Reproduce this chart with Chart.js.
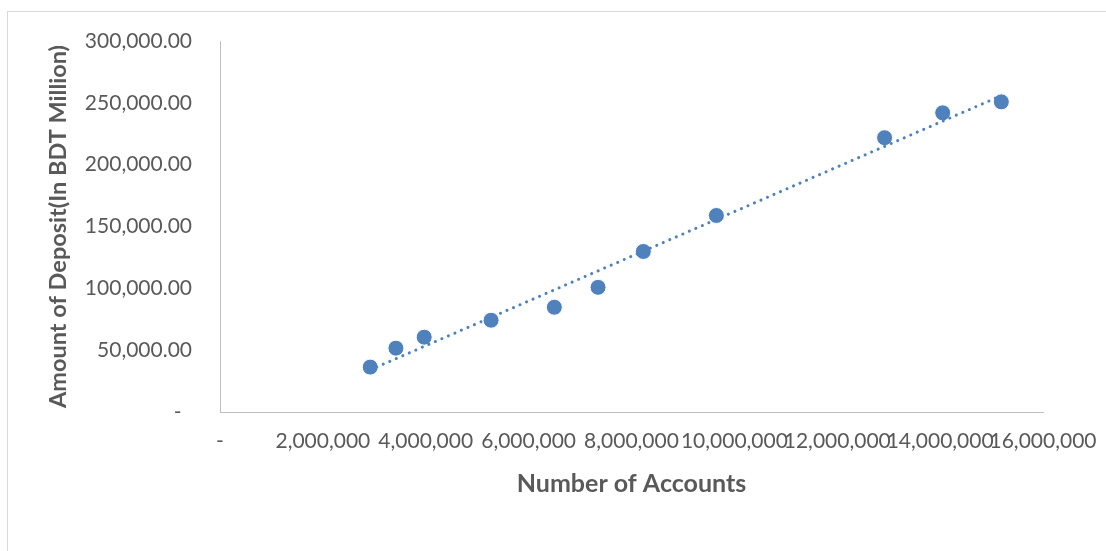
<!DOCTYPE html>
<html>
<head>
<meta charset="utf-8">
<script src="https://cdn.jsdelivr.net/npm/chart.js@4/dist/chart.umd.min.js"></script>
<style>
  html, body { margin: 0; padding: 0; background: #fff; }
  #wrap { width: 1106px; height: 551px; }
</style>
</head>
<body>
<div id="wrap"><canvas id="depositChart" width="1106" height="551"></canvas></div>
<script>
// accounts vs deposits, one point per year
const accounts = [2920000, 3420000, 3970000, 5270000, 6500000, 7350000, 8230000, 9650000, 12920000, 14050000, 15190000];
const deposits = [36300, 51600, 60500, 74200, 84700, 100800, 129800, 158900, 221800, 241900, 250800];

const xTicks = [0, 2000000, 4000000, 6000000, 8000000, 10000000, 12000000, 14000000, 16000000];
const yTicks = [0, 50000, 100000, 150000, 200000, 250000, 300000];

const blue = 'rgb(79, 129, 189)';
const labelColor = '#595959';
const fontFamily = 'Lato, "Open Sans", sans-serif';

// least squares line for the trend
function linearFit(xs, ys) {
  const n = xs.length;
  let sx = 0, sy = 0, sxy = 0, sxx = 0;
  for (let i = 0; i < n; i++) {
    sx += xs[i]; sy += ys[i];
    sxy += xs[i] * ys[i]; sxx += xs[i] * xs[i];
  }
  const slope = (n * sxy - sx * sy) / (n * sxx - sx * sx);
  const intercept = (sy - slope * sx) / n;
  return x => slope * x + intercept;
}

const fit = linearFit(accounts, deposits);
const xMin = Math.min(...accounts);
const xMax = Math.max(...accounts);
const trend = [{x: xMin, y: fit(xMin)}, {x: xMax, y: fit(xMax)}];

const points = accounts.map((a, i) => ({x: a, y: deposits[i]}));

function fmt(v, decimals) {
  if (v === 0) return '-';
  return v.toLocaleString('en-US', {minimumFractionDigits: decimals, maximumFractionDigits: decimals});
}

// thin grey frame round the whole chart
const frame = {
  id: 'frame',
  beforeDraw(chart) {
    const c = chart.ctx;
    c.save();
    c.strokeStyle = '#d9d9d9';
    c.lineWidth = 1;
    c.strokeRect(7.5, 11.5, 1200, 600);
    c.restore();
  }
};

const ctx = document.getElementById('depositChart').getContext('2d');

const myChart = new Chart(ctx, {
  type: 'scatter',
  data: {
    datasets: [
      {
        label: 'Deposits',
        data: points,
        backgroundColor: blue,
        borderColor: '#ffffff',
        borderWidth: 1,
        pointRadius: 8,
        order: 1
      },
      {
        label: 'Trend',
        type: 'line',
        data: trend,
        borderColor: blue,
        borderWidth: 3,
        borderDash: [0.1, 7],
        borderCapStyle: 'round',
        pointRadius: 0,
        fill: false,
        order: 0
      }
    ]
  },
  options: {
    responsive: false,
    animation: false,
    layout: { padding: { top: 41, right: 63, bottom: 39, left: 0 } },
    plugins: {
      legend: { display: false },
      tooltip: { enabled: false }
    },
    scales: {
      x: {
        type: 'linear',
        min: 0,
        max: 16000000,
        afterBuildTicks: scale => { scale.ticks = xTicks.map(v => ({value: v})); },
        afterFit: scale => {
          scale.height = 100;
          // let the last label hang past the plot, no extra room
          scale.paddingLeft = 0;
          scale.paddingRight = 0;
        },
        grid: { display: false, drawTicks: false },
        border: { color: '#bfbfbf', width: 1 },
        ticks: {
          autoSkip: false,
          maxRotation: 0,
          minRotation: 0,
          padding: 17,
          color: labelColor,
          font: { family: fontFamily, size: 21 },
          callback: v => fmt(v, 0)
        },
        title: {
          display: true,
          text: 'Number of Accounts',
          color: labelColor,
          font: { family: fontFamily, size: 25, weight: 'bold' },
          padding: { top: 0, bottom: 13 }
        }
      },
      y: {
        type: 'linear',
        min: 0,
        max: 300000,
        afterBuildTicks: scale => { scale.ticks = yTicks.map(v => ({value: v})); },
        afterFit: scale => { scale.width = 220; },
        grid: { display: false, drawTicks: false },
        border: { color: '#bfbfbf', width: 1 },
        ticks: {
          padding: 28,
          color: labelColor,
          font: { family: fontFamily, size: 21 },
          callback: v => v === 0 ? '-\u2002' : fmt(v, 2)
        },
        title: {
          display: true,
          text: 'Amount of Deposit(In BDT Million)',
          color: labelColor,
          font: { family: fontFamily, size: 23.5, weight: 'bold' },
          padding: { top: 44, bottom: 0 }
        }
      }
    }
  },
  plugins: [frame]
});
</script>
</body>
</html>
